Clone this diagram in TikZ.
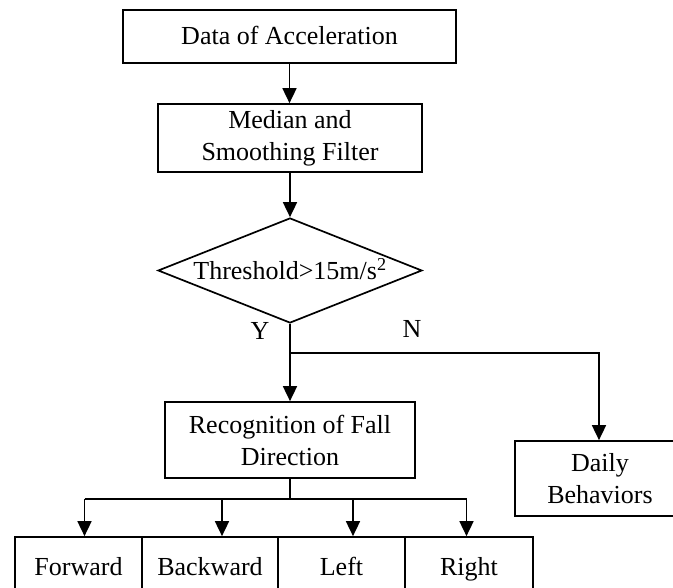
\documentclass[tikz,border=0pt]{standalone}
\usepackage{fontspec}
\setmainfont{Liberation Serif}
\usetikzlibrary{arrows.meta,shapes.geometric}
\begin{document}
\begin{tikzpicture}[x=1pt,y=-1pt,
  every node/.style={font=\fontsize{26}{32}\selectfont},
  box/.style={draw=black,line width=1.7pt,rectangle,inner sep=0pt,align=center},
  onel/.style={text height=17pt,text depth=0pt},
  arr/.style={line width=1.7pt,-{Triangle[length=15pt,width=14pt]}},
  ln/.style={line width=1.7pt}]
\useasboundingbox (0,0) rectangle (673,588);
\clip (0,0) rectangle (673,588);
\node[box,onel,minimum width=333pt,minimum height=53pt] (d1) at (289.5,36.5) {Data of Acceleration};
\node[box,minimum width=264pt,minimum height=68pt] (d2) at (290,138) {Median and\\Smoothing Filter};
\node[draw=black,line width=1.7pt,diamond,inner sep=0pt,minimum width=264pt,minimum height=105pt] (dia) at (290,270.5) {};
\node[anchor=base,inner sep=0pt] (diat) at (290,280) {Threshold>15m/s\textsuperscript{2}};
\node[inner sep=0pt] (ylab) at (260,331) {Y};
\node[inner sep=0pt] (nlab) at (412,329) {N};
\coordinate (br) at (290,353);
\coordinate (nc) at (599,353);
\node[box,minimum width=250pt,minimum height=76pt] (rec) at (290,440) {Recognition of Fall\\Direction};
\node[box,minimum width=170pt,minimum height=75pt] (daily) at (600,478.5) {Daily\\Behaviors};
\coordinate (sp) at (290,499);
\coordinate (c1) at (84.5,499);
\coordinate (c2) at (222,499);
\coordinate (c3) at (353,499);
\coordinate (c4) at (466.5,499);
\node[box,onel,minimum width=127pt,minimum height=60pt] (fw) at (78.5,567) {Forward};
\node[box,onel,minimum width=136pt,minimum height=60pt] (bw) at (210,567) {Backward};
\node[box,onel,minimum width=127pt,minimum height=60pt] (lf) at (341.5,567) {Left};
\node[box,onel,minimum width=128pt,minimum height=60pt] (rt) at (469,567) {Right};
\draw[arr] (d1) -- (d1.south |- d2.north);
\draw[arr] (d2) -- (dia);
\draw[ln] (dia.south) -- (br);
\draw[arr] (br) -- (rec);
\draw[arr] (br) -- (nc) -- (nc |- daily.north);
\draw[ln] (rec.south) -- (sp);
\draw[ln] (c1) -- (c4);
\draw[arr] (c1) -- (c1 |- fw.north);
\draw[arr] (c2) -- (c2 |- bw.north);
\draw[arr] (c3) -- (c3 |- lf.north);
\draw[arr] (c4) -- (c4 |- rt.north);
\end{tikzpicture}
\end{document}
